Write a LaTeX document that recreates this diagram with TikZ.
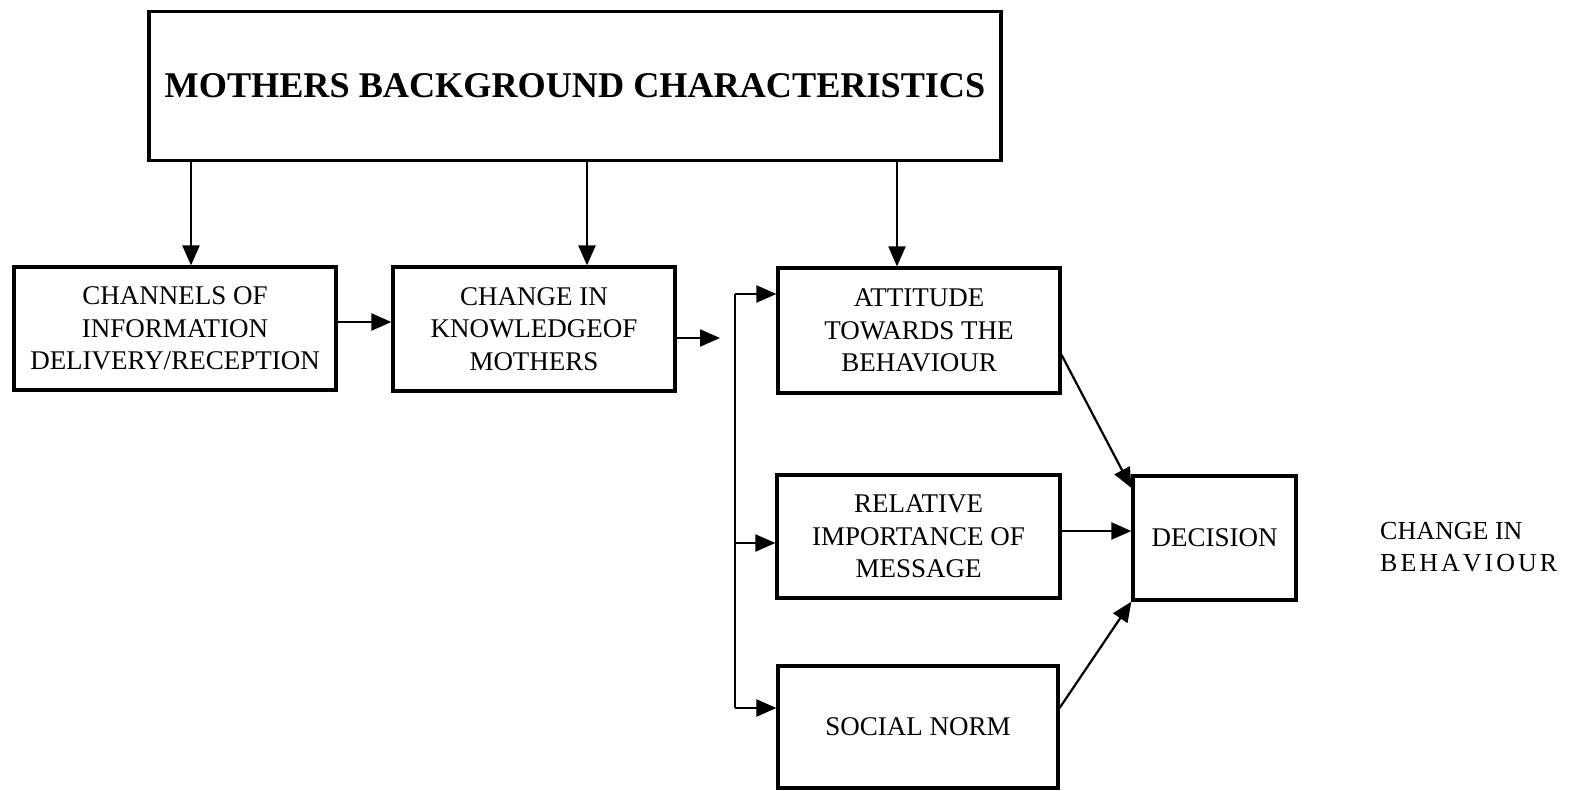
\documentclass[tikz,border=0pt]{standalone}
\usepackage{fontspec}
\setmainfont{Liberation Serif}
\usetikzlibrary{arrows.meta}
\begin{document}
\begin{tikzpicture}[x=1pt,y=-1pt,
  box/.style={draw,line width=3.2pt,align=center,inner sep=0pt,font=\fontsize{27}{32.5}\selectfont},
  arr/.style={line width=2.2pt,-{Triangle[length=20pt,width=17pt]}},
  plain/.style={line width=2.2pt}]
\useasboundingbox (0,0) rectangle (1570,791);
\fill[white] (0,0) rectangle (1570,791);
\node[box, minimum width=852pt, minimum height=149pt, font=\bfseries\fontsize{36.2}{40}\selectfont] (top) at (575,86) {MOTHERS BACKGROUND CHARACTERISTICS};
\node[box, minimum width=322pt, minimum height=123pt] (b1) at (175,328.5) {CHANNELS OF\\INFORMATION\\DELIVERY/RECEPTION};
\node[box, minimum width=282pt, minimum height=124pt] (b2) at (534,329) {CHANGE IN\\KNOWLEDGEOF\\MOTHERS};
\node[box, minimum width=282pt, minimum height=125pt] (b3) at (919,330.5) {ATTITUDE\\TOWARDS THE\\BEHAVIOUR};
\node[box, minimum width=283pt, minimum height=123pt] (b4) at (918.5,536.5) {RELATIVE\\IMPORTANCE OF\\MESSAGE};
\node[box, minimum width=280pt, minimum height=122pt] (b5) at (918,727) {SOCIAL NORM};
\node[box, minimum width=163pt, minimum height=124pt] (dec) at (1214.5,538) {DECISION};
\node[align=left, inner sep=0pt, anchor=west, font=\fontsize{26}{32.5}\selectfont] (chg) at (1380,547) {CHANGE IN\\B\kern3pt E\kern3pt H\kern3pt A\kern3pt V\kern3pt I\kern3pt O\kern3pt U\kern3pt R};
% down arrows
\draw[arr] (top.south -| 191,0) -- (b1.north -| 191,0);
\draw[arr] (top.south -| 587,0) -- (b2.north -| 587,0);
\draw[arr] (top.south -| 897,0) -- (b3.north -| 897,0);
% horizontal
\draw[arr] (b1.east |- 0,322) -- (b2.west |- 0,322);
\coordinate (kend) at (720,338);
\draw[arr] (b2.east |- kend) -- (kend);
% bracket
\coordinate (brt) at (735,294);
\coordinate (brm) at (735,543);
\coordinate (brb) at (735,708);
\draw[plain] (brt) -- (brb);
\draw[arr] (brt) -- (b3.west |- brt);
\draw[arr] (brm) -- (b4.west |- brm);
\draw[arr] (brb) -- (b5.west |- brb);
% to decision
\draw[arr] (b3.east |- 0,355) -- (dec.west |- 0,488);
\draw[arr] (b4.east |- 0,531) -- (dec.west |- 0,531);
\draw[arr] (b5.east |- 0,708) -- (dec.south west);
\end{tikzpicture}
\end{document}
